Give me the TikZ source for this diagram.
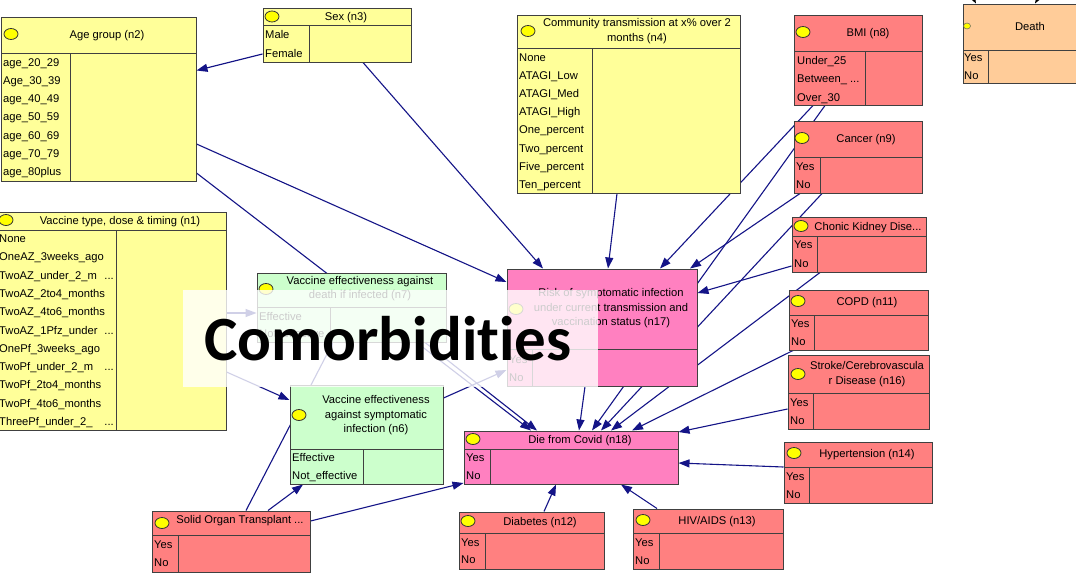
\documentclass[tikz,border=0pt]{standalone}
\usepackage{fontspec}
\setmainfont{Liberation Sans}
\newfontfamily\calfont[Ligatures=NoCommon,RawFeature={-liga;-clig;-dlig}]{Carlito}
\usetikzlibrary{arrows.meta,fit,shapes.geometric}

\definecolor{ylw}{RGB}{255,255,153}
\definecolor{salmon}{RGB}{255,128,128}
\definecolor{rose}{RGB}{255,128,192}
\definecolor{mint}{RGB}{204,255,204}
\definecolor{peach}{RGB}{255,204,153}
\definecolor{bdr}{RGB}{64,64,64}
\definecolor{navy}{RGB}{20,20,135}
\definecolor{lampfill}{RGB}{255,255,0}

\pgfdeclarelayer{paper}
\pgfdeclarelayer{wires}
\pgfsetlayers{paper,wires,main}

\newcommand{\trail}{...}

\tikzset{
  bnframe/.style={draw=bdr, line width=1pt, inner sep=0pt},
  bnrule/.style={draw=bdr, line width=1pt},
  lamp/.style={ellipse, draw=black!80, fill=lampfill, line width=0.8pt,
    minimum width=14pt, minimum height=11pt, inner sep=0pt},
  ttl/.style={font=\fontsize{11.2}{14.5}\selectfont, inner sep=0pt,
    text height=8pt, text depth=0pt},
  ttlm/.style={font=\fontsize{11.2}{14.5}\selectfont, align=center, inner sep=0pt},
  st/.style={font=\fontsize{11.2}{13}\selectfont, anchor=west, inner sep=0pt,
    text height=8pt, text depth=0pt},
  wire/.style={draw=navy, line width=1.1pt, -{Triangle[length=11pt,width=8pt]}},
  blackwire/.style={draw=black, line width=1pt, -{Triangle[length=11pt,width=8pt]}},
}

% box of a network node: name, fill, x1, y1, x2, y2, header rule y, divider x
\newcommand{\bnbox}[8]{%
  \node[bnframe, fill=#2, fit={(#3,#4) (#5,#6)}] (#1) {};
  \draw[bnrule] (#3,#7) -- (#5,#7);
  \draw[bnrule] (#8,#7) -- (#8,#6);
}
% column of state names: prefix, x, first y, step, list
\newcommand{\statecol}[5]{%
  \foreach \s [count=\i] in {#5}
    \node[st] (#1s\i) at (#2,{#3+(\i-1)*#4}) {\s};
}

\begin{document}
\begin{tikzpicture}[x=1pt,y=-1pt]
\useasboundingbox (0,0) rectangle (1076,576);
\begin{pgfonlayer}{paper}
  \fill[white] (0,0) rectangle (1076,576);
\end{pgfonlayer}

% ---------- yellow: background factors ----------
\bnbox{n2}{ylw}{1}{17}{196}{181}{53}{70}
\node[lamp] (n2l) at (11,34) {};
\node[ttl] (n2t) at (107,34) {Age group (n2)};
\statecol{n2}{3}{62}{18.3}{age\_20\_29, Age\_30\_39, age\_40\_49, age\_50\_59, age\_60\_69, age\_70\_79, age\_80plus}

\bnbox{n3}{ylw}{263}{8}{411}{62}{25}{309}
\node[lamp] (n3l) at (272,16.5) {};
\node[ttl] (n3t) at (346,16.5) {Sex (n3)};
\statecol{n3}{265}{34}{19}{Male, Female}

\bnbox{n4}{ylw}{517}{15}{740}{193}{48}{592}
\node[lamp] (n4l) at (528,31) {};
\node[ttlm] (n4t) at (637,31) {Community transmission at x\% over 2\\months (n4)};
\statecol{n4}{519}{57}{18.2}{None, ATAGI\_Low, ATAGI\_Med, ATAGI\_High, One\_percent, Two\_percent, Five\_percent, Ten\_percent}

\bnbox{n1}{ylw}{-2}{212}{226}{430}{230}{116}
\node[lamp] (n1l) at (6,220) {};
\node[ttl] (n1t) at (120,220.5) {Vaccine type, dose \& timing (n1)};
\foreach \s/\e [count=\i] in {None/{}, OneAZ\_3weeks\_ago/{}, TwoAZ\_under\_2\_m/\trail, TwoAZ\_2to4\_months/{}, TwoAZ\_4to6\_months/{}, TwoAZ\_1Pfz\_under/\trail, OnePf\_3weeks\_ago/{}, TwoPf\_under\_2\_m/\trail, TwoPf\_2to4\_months/{}, TwoPf\_4to6\_months/{}, ThreePf\_under\_2\_/\trail} {
  \node[st] (n1s\i) at (-1,{238.5+(\i-1)*18.3}) {\s};
  \node[st, anchor=east] (n1e\i) at (114,{238.5+(\i-1)*18.3}) {\e};
}

% ---------- green: vaccine effectiveness ----------
\bnbox{n7}{mint}{257}{273}{446}{342}{307}{330}
\node[lamp] (n7l) at (266,289) {};
\node[ttlm] (n7t) at (360,288.5) {Vaccine effectiveness against\\death if infected (n7)};
\statecol{n7}{259}{316}{17}{Effective, Not\_effective}

\bnbox{n6}{mint}{290}{385}{443}{484}{449}{363}
\node[lamp] (n6l) at (299,415) {};
\node[ttlm] (n6t) at (376,415.5) {Vaccine effectiveness\\against symptomatic\\infection (n6)};
\statecol{n6}{292}{457}{18.5}{Effective, Not\_effective}

% ---------- pink: outcomes ----------
\bnbox{n17}{rose}{507}{269}{697}{386}{349}{532}
\node[lamp] (n17l) at (516,309) {};
\node[ttlm] (n17t) at (611,308.5) {Risk of symptomatic infection\\under current transmission and\\vaccination status (n17)};
\statecol{n17}{509}{359}{18}{Yes, No}

\bnbox{n18}{rose}{464}{431}{678}{484}{449}{490}
\node[lamp] (n18l) at (473,439) {};
\node[ttl] (n18t) at (580,439) {Die from Covid (n18)};
\statecol{n18}{466}{457}{18.5}{Yes, No}

% ---------- red: comorbidities ----------
\bnbox{n8}{salmon}{794}{15}{922}{105}{51}{865}
\node[lamp] (n8l) at (803,32) {};
\node[ttl] (n8t) at (868,32) {BMI (n8)};
\statecol{n8}{797}{60}{18.5}{Under\_25, Between\_ \trail, Over\_30}

\bnbox{n9}{salmon}{794}{121}{922}{193}{157}{820}
\node[lamp] (n9l) at (802,138) {};
\node[ttl] (n9t) at (866,138) {Cancer (n9)};
\statecol{n9}{796}{166}{18.5}{Yes, No}

\bnbox{n10}{salmon}{792}{217}{926}{272}{236}{817}
\node[lamp] (n10l) at (801,226) {};
\node[ttl] (n10t) at (868,226) {Chonic Kidney Dise...};
\statecol{n10}{794}{244}{19}{Yes, No}

\bnbox{n11}{salmon}{789}{290}{928}{350}{315}{814}
\node[lamp] (n11l) at (798,301) {};
\node[ttl] (n11t) at (867,301) {COPD (n11)};
\statecol{n11}{791}{323}{18}{Yes, No}

\bnbox{n16}{salmon}{788}{355}{929}{429}{393}{813}
\node[lamp] (n16l) at (798,374) {};
\node[ttlm] (n16t) at (867,374) {Stroke/Cerebrovascula\\r Disease (n16)};
\statecol{n16}{790}{402}{18.5}{Yes, No}

\bnbox{n14}{salmon}{784}{442}{932}{503}{467}{809}
\node[lamp] (n14l) at (794,453) {};
\node[ttl] (n14t) at (867,453) {Hypertension (n14)};
\statecol{n14}{786}{476}{18}{Yes, No}

\bnbox{n13}{salmon}{633}{509}{783}{569}{533}{659}
\node[lamp] (n13l) at (643,520) {};
\node[ttl] (n13t) at (717,520) {HIV/AIDS (n13)};
\statecol{n13}{635}{542}{18}{Yes, No}

\bnbox{n12}{salmon}{459}{512}{604}{569}{533}{485}
\node[lamp] (n12l) at (468,521) {};
\node[ttl] (n12t) at (540,521) {Diabetes (n12)};
\statecol{n12}{461}{542}{17.5}{Yes, No}

\bnbox{n15}{salmon}{152}{511}{310}{572}{535}{178}
\node[lamp] (n15l) at (162,523) {};
\node[ttl] (n15t) at (240,519.5) {Solid Organ Transplant ...};
\statecol{n15}{154}{544}{18}{Yes, No}

% ---------- orange: death ----------
\bnbox{death}{peach}{963}{4}{1082}{83}{50}{988}
\node[ellipse, draw=black!60, fill=lampfill, line width=0.5pt, minimum width=7pt,
      minimum height=6pt, inner sep=0pt] (deathl) at (967,26) {};
\node[ttl] (deatht) at (1030,26) {Death};
\statecol{death}{964}{57.5}{17.5}{Yes, No}
\coordinate (upA) at (962,-22);
\coordinate (upB) at (1050,-22);

% ---------- connectors ----------
\begin{pgfonlayer}{wires}
  \draw[wire] (n3.west |- 0,54) -- (n2.east |- 0,70.5);
  \draw[wire] (n3.south -| 363,0) -- (n17.north -| 543,0);
  \draw[wire] (n2.east |- 0,144) -- (n17.west |- 0,282);
  \draw[wire] (n2.east |- 0,173) -- (n18.north -| 531,0);
  \draw[wire] (n7.south -| 425,0) -- (n18.north -| 537,0);
  \draw[wire] (n1.east |- 0,313) -- (n7.west |- 0,313);
  \draw[wire] (n1.east |- 0,372) -- (n6.west |- 0,400);
  \draw[wire] (n6.east |- 0,398) -- (n17.west |- 0,370);
  \draw[wire] (n15.north -| 268,0) -- (n6.south -| 303,0);
  \draw[wire] (n15.north -| 246,0) -- (n7.south -| 333,0);
  \draw[wire] (n15.east |- 0,521) -- (n18.west |- 0,483);
  \draw[wire] (n12.north -| 544,0) -- (n18.south -| 556,0);
  \draw[wire] (n13.north -| 657,0) -- (n18.south -| 621,0);
  \draw[wire] (n14.west |- 0,467) -- (n18.east |- 0,463);
  \draw[wire] (n16.west |- 0,409) -- (n18.east |- 0,432);
  \draw[wire] (n11.south -| 793,0) -- (n18.north -| 632,0);
  \draw[wire] (n10.west |- 0,266) -- (n17.east |- 0,293);
  \draw[wire] (n10.south -| 820,0) -- (n18.north -| 611,0);
  \draw[wire] (n9.south -| 800,0) -- (n17.north -| 690,0);
  \draw[wire] (n9.south -| 822,0) -- (n18.north -| 601,0);
  \draw[wire] (n8.south -| 813,0) -- (n17.north -| 660,0);
  \draw[wire] (n8.south -| 825,0) -- (n18.north -| 592,0);
  \draw[wire] (n4.south -| 617,0) -- (n17.north -| 608,0);
  \draw[wire] (n17.south -| 585,0) -- (n18.north -| 579,0);
  \draw[blackwire] (upA) -- (death.north -| 976,0);
  \draw[blackwire] (upB) -- (death.north -| 1035,0);
\end{pgfonlayer}

% ---------- caption banner ----------
\fill[white, opacity=0.8] (183,290) rectangle (598,387);
\node[font=\calfont\bfseries\fontsize{63}{70}\selectfont, anchor=base, inner sep=0pt]
  (banner) at (388,360) {Comorbidit\kern0pt ies};

\end{tikzpicture}
\end{document}
